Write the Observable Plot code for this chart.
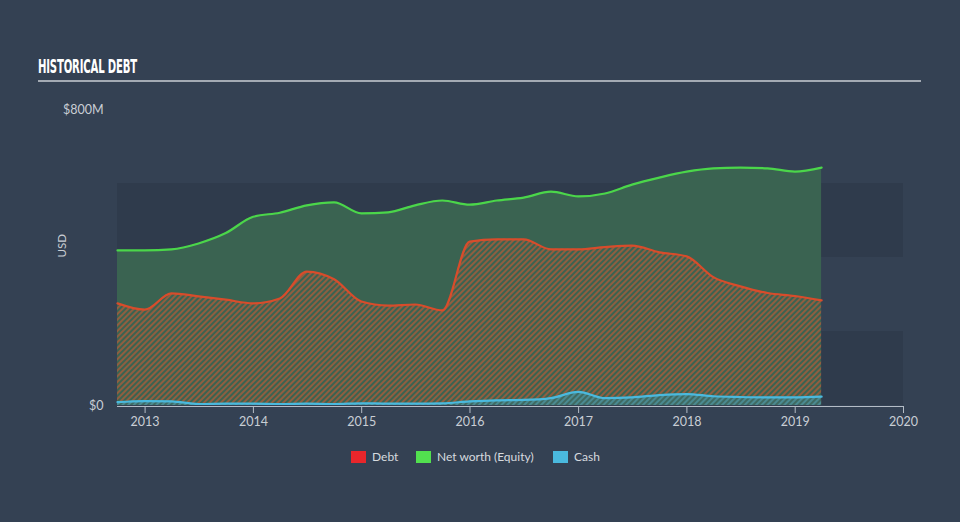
<!DOCTYPE html>
<html>
<head>
<meta charset="utf-8">
<script src="https://cdn.jsdelivr.net/npm/d3@7"></script>
<script src="https://cdn.jsdelivr.net/npm/@observablehq/plot@0.6"></script>
<style>
  html, body { margin: 0; padding: 0; background: #344153; }
  #wrap { position: relative; width: 960px; height: 522px; background: #344153; overflow: hidden; font-family: Lato, "Open Sans", sans-serif; }
  #title { position: absolute; left: 38px; top: 55px; color: #ffffff; font-family: "Liberation Sans Narrow", "DejaVu Sans Condensed", sans-serif; font-weight: bold; font-size: 19px; white-space: nowrap; transform-origin: 0 0; letter-spacing: -0.3px; }
  #rule { position: absolute; left: 38px; top: 80px; width: 883px; height: 2px; background: #a3aab3; }
  #chart { position: absolute; left: 0; top: 0; }
  #legend { position: absolute; top: 449px; left: 0; width: 960px; height: 18px; font-size: 12px; color: #d6dadf; }
  .item { position: absolute; top: 0; display: flex; align-items: center; white-space: nowrap; }
  .sw { width: 15px; height: 12px; margin-right: 6px; display: inline-block; }
</style>
</head>
<body>
<svg width="0" height="0" style="position:absolute">
  <defs>
    <pattern id="debtHatch" width="4" height="4" patternUnits="userSpaceOnUse" patternTransform="rotate(45)">
      <rect x="0" y="0" width="2" height="4" fill="#c45a36" fill-opacity="0.62"></rect>
    </pattern>
    <pattern id="cashHatch" width="4" height="4" patternUnits="userSpaceOnUse" patternTransform="rotate(45)">
      <rect x="0" y="0" width="4" height="4" fill="#3f6a62"></rect>
      <rect x="0" y="0" width="2" height="4" fill="#58a9bf" fill-opacity="0.5"></rect>
    </pattern>
  </defs>
</svg>
<div id="wrap">
  <div id="chart"></div>
  <div id="title"><span id="titleText">HISTORICAL DEBT</span></div>
  <div id="rule"></div>
  <div id="legend">
    <div class="item" style="left:351px"><span class="sw" style="background:#e8262b"></span>Debt</div>
    <div class="item" style="left:416px"><span class="sw" style="background:#52e04f"></span>Net worth (Equity)</div>
    <div class="item" style="left:553px"><span class="sw" style="background:#4ab9de"></span>Cash</div>
  </div>
</div>
<script>
const dates = ["2012-09-30","2012-12-31","2013-03-31","2013-06-30","2013-09-30","2013-12-31",
  "2014-03-31","2014-06-30","2014-09-30","2014-12-31","2015-03-31","2015-06-30","2015-09-30",
  "2015-12-31","2016-03-31","2016-06-30","2016-09-30","2016-12-31","2017-03-31","2017-06-30",
  "2017-09-30","2017-12-31","2018-03-31","2018-06-30","2018-09-30","2018-12-31","2019-03-31"];
const equity = [419,419,422,438,466,510,521,541,549,519,522,541,554,543,554,562,578,565,573,597,616,632,641,643,641,632,643];
const debt = [276,259,303,295,286,276,289,362,341,281,270,273,257,443,449,449,422,422,428,432,414,403,347,322,304,296,284];
const cash = [9,12,11,4,5,5,4,5,4,6,5,5,6,11,14,15,20,37,20,22,28,31,25,23,22,22,24];
const yTicks = [0, 800];
const yTickLabels = ["$0", "$800M"];
const bands = [{y1: 0, y2: 200}, {y1: 400, y2: 600}];

const parse = d3.utcParse("%Y-%m-%d");
const rows = dates.map((d, i) => ({date: parse(d), equity: equity[i], debt: debt[i], cash: cash[i]}));
const x0 = parse("2012-09-30"), x1 = parse("2020-01-01");

const chart = Plot.plot({
  width: 960,
  height: 522,
  marginLeft: 117,
  marginRight: 57,
  marginTop: 109,
  marginBottom: 117,
  style: {background: "transparent", color: "#c9ced5", fontFamily: "Lato, 'Open Sans', sans-serif", fontSize: "12.5px"},
  x: {type: "utc", domain: [x0, x1]},
  y: {domain: [0, 800]},
  marks: [
    Plot.rect(bands, {x1: () => x0, x2: () => x1, y1: "y1", y2: "y2", fill: "#2f3b4c"}),
    Plot.areaY(rows, {x: "date", y: "equity", fill: "#3a6351", curve: "monotone-x"}),
    Plot.areaY(rows, {x: "date", y: "debt", fill: "url(#debtHatch)", curve: "monotone-x"}),
    Plot.areaY(rows, {x: "date", y: "cash", fill: "url(#cashHatch)", curve: "monotone-x"}),
    Plot.line(rows, {x: "date", y: "equity", stroke: "#4bd64a", strokeWidth: 2.2, curve: "monotone-x"}),
    Plot.line(rows, {x: "date", y: "debt", stroke: "#d84c2b", strokeWidth: 2.2, curve: "monotone-x"}),
    Plot.line(rows, {x: "date", y: "cash", stroke: "#4ab9de", strokeWidth: 2.2, curve: "monotone-x"}),
    Plot.ruleY([0], {stroke: "#b4bcc6", strokeWidth: 1.2, dy: 1}),
    Plot.axisX({ticks: d3.utcYear.every(1), tickFormat: d3.utcFormat("%Y"), tickSize: 7, tickPadding: 4, stroke: "#b4bcc6", color: "#c9ced5", label: null, fontSize: 12.5, dy: 1}),
    Plot.axisY({ticks: yTicks, tickFormat: (d, i) => yTickLabels[yTicks.indexOf(d)], tickSize: 0, tickPadding: 14, label: null, fontSize: 12.5}),
    Plot.text(["USD"], {frameAnchor: "left", dx: -55, rotate: -90, fill: "#c9ced5", fontSize: 11.5})
  ]
});
document.getElementById("chart").appendChild(chart);

const t = document.getElementById("titleText");
const w = t.getBoundingClientRect().width;
document.getElementById("title").style.transform = `scaleX(${99 / w})`;
</script>
</body>
</html>
